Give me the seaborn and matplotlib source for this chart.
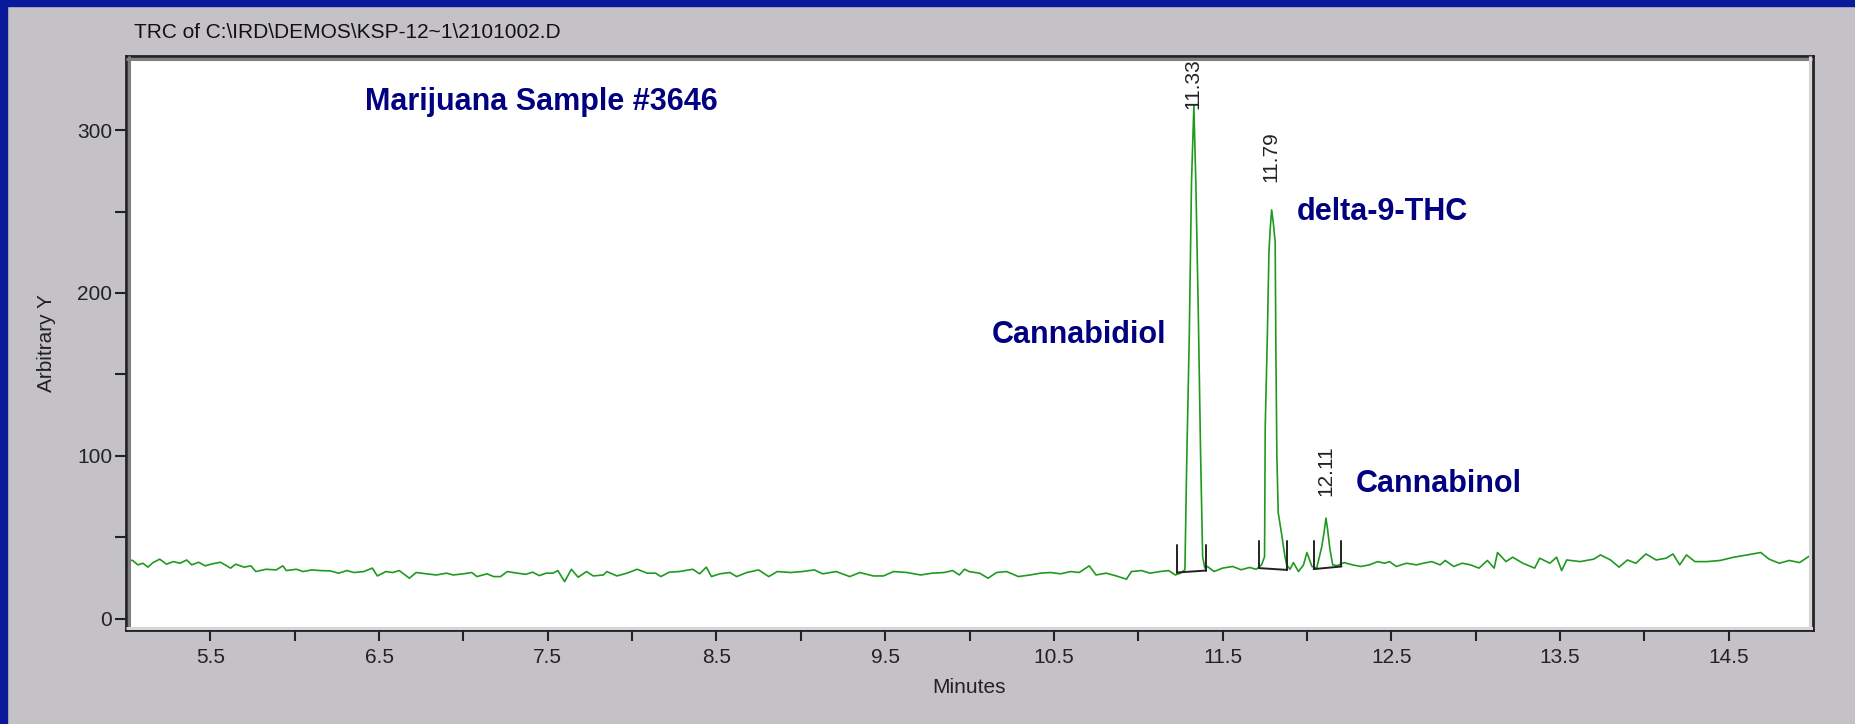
import numpy as np
import pandas as pd
import seaborn as sns
import matplotlib.pyplot as plt
import matplotlib.transforms as mtransforms
from matplotlib.patches import Rectangle
from matplotlib.ticker import FixedLocator

# chromatogram trace (minutes, detector response)
minutes = [
    5.00, 5.04, 5.07, 5.10, 5.13, 5.16, 5.20, 5.24, 5.28, 5.32, 5.36, 5.39, 5.43, 5.47, 5.51,
    5.56, 5.62, 5.65, 5.70, 5.74, 5.77, 5.83, 5.89, 5.93, 5.95, 6.01, 6.05, 6.10, 6.15, 6.21,
    6.26, 6.31, 6.35, 6.41, 6.46, 6.49, 6.54, 6.58, 6.62, 6.68, 6.72, 6.78, 6.84, 6.90, 6.94,
    7.00, 7.05, 7.08, 7.14, 7.18, 7.22, 7.26, 7.32, 7.37, 7.41, 7.45, 7.49, 7.53, 7.56, 7.60,
    7.64, 7.68, 7.73, 7.77, 7.83, 7.85, 7.91, 7.97, 8.03, 8.09, 8.14, 8.17, 8.22, 8.28, 8.36,
    8.40, 8.44, 8.47, 8.52, 8.58, 8.62, 8.68, 8.75, 8.81, 8.86, 8.94, 9.01, 9.08, 9.13, 9.21,
    9.29, 9.35, 9.43, 9.49, 9.55, 9.63, 9.71, 9.78, 9.85, 9.90, 9.94, 9.97, 10.00, 10.06, 10.11,
    10.16, 10.22, 10.29, 10.36, 10.42, 10.48, 10.54, 10.60, 10.65, 10.71, 10.75, 10.81, 10.87,
    10.93, 10.96, 11.02, 11.07, 11.13, 11.18, 11.22, 11.25,
    11.277, 11.287, 11.303, 11.316, 11.330, 11.342, 11.356, 11.370, 11.382, 11.395,
    11.41, 11.45, 11.50, 11.56, 11.61, 11.66, 11.70, 11.731,
    11.749, 11.753, 11.765, 11.775, 11.783, 11.791, 11.801, 11.812, 11.816, 11.822, 11.830,
    11.850, 11.870, 11.880, 11.90, 11.92, 11.95, 11.98, 12.00, 12.03,
    12.058, 12.088, 12.101, 12.113, 12.123, 12.137, 12.153, 12.18,
    12.22, 12.27, 12.32, 12.37, 12.42, 12.46, 12.49, 12.53, 12.59, 12.65, 12.69, 12.74, 12.79,
    12.82, 12.87, 12.92, 12.97, 13.02, 13.07, 13.11, 13.13, 13.18, 13.22, 13.28, 13.35, 13.38,
    13.44, 13.48, 13.51, 13.54, 13.62, 13.70, 13.74, 13.80, 13.85, 13.90, 13.95, 14.01, 14.07,
    14.13, 14.17, 14.21, 14.25, 14.30, 14.37, 14.45, 14.53, 14.61, 14.69, 14.74, 14.80, 14.86,
    14.92, 14.98, 15.00,
]
response = [
    36.0, 35.7, 33.0, 34.0, 31.6, 34.4, 36.5, 33.4, 35.0, 34.0, 36.0, 33.0, 34.6, 32.4, 33.6,
    34.6, 31.0, 33.4, 31.6, 32.4, 28.9, 30.3, 29.9, 32.4, 29.5, 30.3, 28.9, 29.9, 29.5, 29.3,
    27.9, 29.5, 28.3, 28.9, 31.0, 26.2, 28.9, 28.3, 29.5, 24.8, 28.3, 27.5, 26.8, 27.9, 26.8,
    27.5, 28.3, 25.8, 27.5, 25.8, 25.8, 28.9, 27.9, 27.2, 28.5, 26.4, 27.9, 27.9, 29.5, 22.7,
    30.3, 25.4, 28.9, 26.2, 26.8, 28.9, 26.2, 27.9, 30.3, 27.9, 27.9, 25.8, 28.5, 28.9, 30.3,
    27.5, 31.6, 25.8, 27.5, 28.3, 25.8, 28.3, 29.9, 25.8, 28.9, 28.3, 28.9, 29.9, 27.5, 28.9,
    25.8, 28.3, 26.2, 26.2, 28.9, 28.3, 26.8, 27.9, 28.3, 29.5, 26.8, 30.3, 28.8, 27.9, 24.8,
    28.3, 28.9, 25.8, 26.8, 27.9, 28.3, 27.5, 28.9, 28.3, 32.4, 26.8, 27.9, 26.2,
    24.2, 28.9, 29.5, 27.9, 28.9, 29.5, 26.8, 27.9,
    30.0, 93.0, 175.0, 268.0, 315.0, 266.0, 189.0, 100.0, 38.0, 31.0,
    32.0, 28.9, 31.0, 32.0, 30.0, 31.4, 30.3, 33.0,
    38.0, 118.0, 171.0, 225.0, 240.0, 251.0, 243.0, 231.0, 167.0, 100.0, 65.0,
    52.0, 38.0, 33.0, 30.3, 34.4, 28.9, 33.0, 40.6, 32.0,
    31.0, 44.0, 52.5, 61.7, 54.5, 42.2, 33.0, 32.5,
    34.4, 33.0, 32.0, 33.0, 35.0, 34.0, 35.0, 32.0, 34.0, 33.0, 34.0, 35.0, 33.0,
    35.7, 32.0, 34.0, 33.0, 31.0, 35.7, 31.0, 40.6, 35.0, 37.7, 34.0, 31.0, 37.1,
    34.0, 37.7, 29.5, 36.0, 35.0, 36.5, 39.1, 36.0, 31.6, 36.0, 34.0, 39.7, 36.0,
    37.1, 39.7, 33.0, 39.1, 35.0, 35.0, 35.7, 37.7, 39.1, 40.6, 36.5, 34.0, 35.7,
    34.4, 38.5, 38.0,
]

# retention time labels
peak_labels = ["11.33", "11.79", "12.11"]
peak_label_x = [11.327, 11.789, 12.113]
peak_label_y = [313, 268, 75]

# integration marks: start / end times, baseline at each end, top of the end ticks
int_start = [11.23, 11.718, 12.04]
int_end = [11.40, 11.883, 12.205]
int_base_start = [28.3, 31.0, 30.4]
int_base_end = [29.5, 29.9, 32.0]
int_top = [45.3, 47.9, 47.5]

# compound names
names = ["Marijuana Sample #3646", "Cannabidiol", "delta-9-THC", "Cannabinol"]
name_x = [6.417, 10.133, 11.94, 12.29]
name_y = [317, 174.4, 249.4, 82.8]

x_ticks = [5.5, 6.5, 7.5, 8.5, 9.5, 10.5, 11.5, 12.5, 13.5, 14.5]
x_minor = [6, 7, 8, 9, 10, 11, 12, 13, 14]
y_ticks = [0, 100, 200, 300]
y_minor = [50, 150, 250]

sns.set_theme(style="ticks")
plt.rcParams['font.family'] = ['Liberation Sans Narrow', 'Liberation Sans', 'DejaVu Sans']

GRAY = '#c4c2c6'
BLUE = '#0a189a'
GREEN = '#1f9a1f'
NAVY = '#000080'
DARK = '#222222'

fig = plt.figure(figsize=(18.56, 7.24), dpi=100, facecolor=GRAY)
W, H = 1856, 724
fig.add_artist(Rectangle((0, 0), 7 / W, 1, transform=fig.transFigure, color=BLUE, zorder=0))
fig.add_artist(Rectangle((0, 1 - 6 / H), 1, 6 / H, transform=fig.transFigure, color=BLUE, zorder=0))

ax = fig.add_axes([126 / W, (H - 630) / H, (1813 - 126) / W, (630 - 56) / H])
ax.set_facecolor('white')

df = pd.DataFrame({'Minutes': minutes, 'Arbitrary Y': response})
sns.lineplot(data=df, x='Minutes', y='Arbitrary Y', color=GREEN, linewidth=1.2,
             estimator=None, sort=False, ax=ax)

for s, e, bs, be, top in zip(int_start, int_end, int_base_start, int_base_end, int_top):
    ax.plot([s, s], [bs, top], color=DARK, lw=1.4)
    ax.plot([e, e], [be, top], color=DARK, lw=1.4)
    ax.plot([s, e], [bs, be], color=DARK, lw=1.4)

for lab, x, y in zip(peak_labels, peak_label_x, peak_label_y):
    ax.text(x, y, lab, rotation=90, ha='center', va='bottom', fontsize=15,
            family=['Liberation Sans', 'DejaVu Sans'], color=DARK)

for n, x, y in zip(names, name_x, name_y):
    ax.text(x, y, n, ha='left', va='center', fontsize=22, fontweight='bold',
            family=['Liberation Sans', 'DejaVu Sans'], color=NAVY)

ax.set_xlim(5, 15)
ax.set_ylim(-7, 345.5)
ax.set_xticks(x_ticks)
ax.set_xticklabels([f"{t:.1f}" for t in x_ticks])
ax.xaxis.set_minor_locator(FixedLocator(x_minor))
ax.set_yticks(y_ticks)
ax.set_yticklabels([str(t) for t in y_ticks])
ax.yaxis.set_minor_locator(FixedLocator(y_minor))
ax.tick_params(which='both', direction='out', length=8, width=1.5, color=DARK,
               labelsize=15, labelcolor=DARK)
ax.tick_params(axis='x', which='both', pad=5)
ax.tick_params(axis='y', which='both', pad=2)
for sp in ax.spines.values():
    sp.set_color(DARK)
    sp.set_linewidth(2)

# sunken panel look: grey inner edge top/left, light inner edge bottom/right
def inner_edge(xs, ys, dx, dy, color):
    tr = mtransforms.offset_copy(ax.transAxes, fig=fig, x=dx, y=dy, units='dots')
    ax.plot(xs, ys, transform=tr, color=color, lw=2.2, clip_on=True,
            solid_capstyle='butt', zorder=5)

inner_edge([0, 0], [0, 1], 2.5, 0, '#808080')
inner_edge([0, 1], [1, 1], 0, -2.5, '#808080')
inner_edge([0, 1], [0, 0], 0, 2.5, '#d6d6d6')
inner_edge([1, 1], [0, 1], -2.5, 0, '#d6d6d6')

ax.set_xlabel('Minutes', fontsize=15, color=DARK, labelpad=8)
ax.set_ylabel('Arbitrary Y', fontsize=15, color=DARK, labelpad=15)

fig.text(134 / W, 1 - 33 / H, 'TRC of C:\\IRD\\DEMOS\\KSP-12~1\\2101002.D',
         ha='left', va='center', fontsize=15, color='#111111')

fig.savefig('out.png', dpi=100, facecolor=GRAY)
